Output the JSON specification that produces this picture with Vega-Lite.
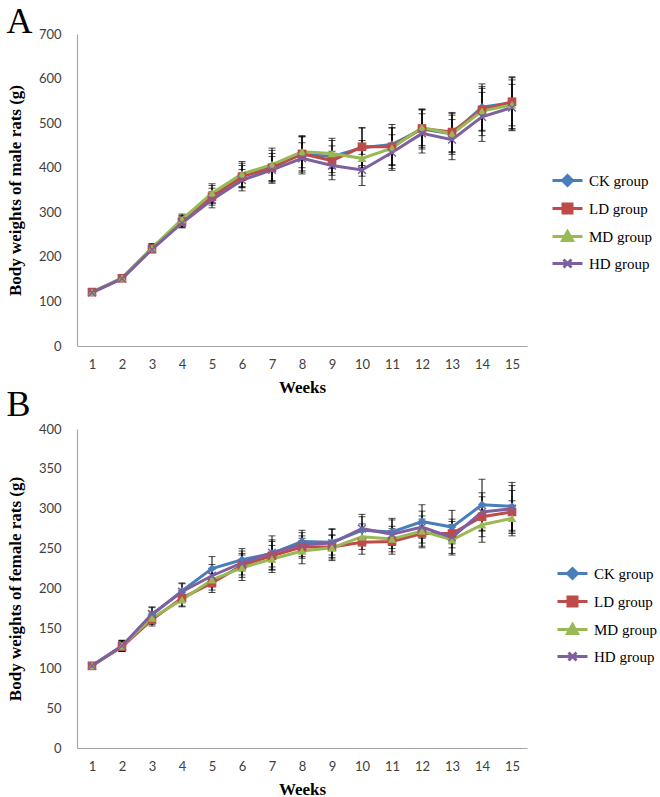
{
  "$schema": "https://vega.github.io/schema/vega-lite/v6.json",
  "padding": {"left": 6, "top": 4, "right": 0, "bottom": 0},
  "background": "white",
  "spacing": -8,
  "config": {
    "view": {"stroke": null},
    "axis": {"grid": false, "ticks": false, "domainColor": "#a6a6a6", "domainWidth": 1.2, "labelFont": "Lato", "labelFontSize": 13, "labelColor": "#404040", "titleFont": "Liberation Serif", "titleFontSize": 17, "titleFontWeight": "bold", "titleColor": "black"},
    "axisX": {"labelAngle": 0, "labelPadding": 12, "titlePadding": 8},
    "axisY": {"labelPadding": 16, "titlePadding": 14},
    "title": {"font": "Liberation Serif", "fontSize": 36, "fontWeight": "normal", "color": "black", "anchor": "start", "frame": "bounds"},
    "legend": {"labelFont": "Liberation Serif", "labelFontSize": 15, "labelColor": "black", "symbolSize": 100, "symbolStrokeWidth": 3, "rowPadding": 6, "labelOffset": 14, "title": null, "orient": "none", "padding": 0}
  },
  "datasets": {
    "male": [
      {"week": 1, "group": "CK  group", "value": 120, "sd": 5}, {"week": 1, "group": "LD  group", "value": 121, "sd": 4}, {"week": 1, "group": "MD group", "value": 121, "sd": 6}, {"week": 1, "group": "HD group", "value": 120, "sd": 4},
      {"week": 2, "group": "CK  group", "value": 152, "sd": 6}, {"week": 2, "group": "LD  group", "value": 152, "sd": 5}, {"week": 2, "group": "MD group", "value": 153, "sd": 7}, {"week": 2, "group": "HD group", "value": 151, "sd": 5},
      {"week": 3, "group": "CK  group", "value": 219, "sd": 9}, {"week": 3, "group": "LD  group", "value": 218, "sd": 8}, {"week": 3, "group": "MD group", "value": 220, "sd": 10}, {"week": 3, "group": "HD group", "value": 217, "sd": 8},
      {"week": 4, "group": "CK  group", "value": 280, "sd": 13}, {"week": 4, "group": "LD  group", "value": 279, "sd": 12}, {"week": 4, "group": "MD group", "value": 284, "sd": 12}, {"week": 4, "group": "HD group", "value": 276, "sd": 11},
      {"week": 5, "group": "CK  group", "value": 340, "sd": 20}, {"week": 5, "group": "LD  group", "value": 335, "sd": 19}, {"week": 5, "group": "MD group", "value": 343, "sd": 21}, {"week": 5, "group": "HD group", "value": 328, "sd": 18},
      {"week": 6, "group": "CK  group", "value": 383, "sd": 27}, {"week": 6, "group": "LD  group", "value": 380, "sd": 25}, {"week": 6, "group": "MD group", "value": 386, "sd": 28}, {"week": 6, "group": "HD group", "value": 372, "sd": 24},
      {"week": 7, "group": "CK  group", "value": 405, "sd": 34}, {"week": 7, "group": "LD  group", "value": 400, "sd": 32}, {"week": 7, "group": "MD group", "value": 407, "sd": 37}, {"week": 7, "group": "HD group", "value": 395, "sd": 30},
      {"week": 8, "group": "CK  group", "value": 430, "sd": 40}, {"week": 8, "group": "LD  group", "value": 431, "sd": 38}, {"week": 8, "group": "MD group", "value": 436, "sd": 36}, {"week": 8, "group": "HD group", "value": 421, "sd": 35},
      {"week": 9, "group": "CK  group", "value": 425, "sd": 36}, {"week": 9, "group": "LD  group", "value": 416, "sd": 33}, {"week": 9, "group": "MD group", "value": 432, "sd": 34}, {"week": 9, "group": "HD group", "value": 405, "sd": 32},
      {"week": 10, "group": "CK  group", "value": 445, "sd": 45}, {"week": 10, "group": "LD  group", "value": 447, "sd": 42}, {"week": 10, "group": "MD group", "value": 421, "sd": 40}, {"week": 10, "group": "HD group", "value": 395, "sd": 35},
      {"week": 11, "group": "CK  group", "value": 452, "sd": 45}, {"week": 11, "group": "LD  group", "value": 447, "sd": 42}, {"week": 11, "group": "MD group", "value": 444, "sd": 46}, {"week": 11, "group": "HD group", "value": 434, "sd": 40},
      {"week": 12, "group": "CK  group", "value": 487, "sd": 45}, {"week": 12, "group": "LD  group", "value": 488, "sd": 42}, {"week": 12, "group": "MD group", "value": 490, "sd": 40}, {"week": 12, "group": "HD group", "value": 477, "sd": 44},
      {"week": 13, "group": "CK  group", "value": 476, "sd": 46}, {"week": 13, "group": "LD  group", "value": 480, "sd": 44}, {"week": 13, "group": "MD group", "value": 476, "sd": 42}, {"week": 13, "group": "HD group", "value": 463, "sd": 45},
      {"week": 14, "group": "CK  group", "value": 536, "sd": 52}, {"week": 14, "group": "LD  group", "value": 530, "sd": 48}, {"week": 14, "group": "MD group", "value": 527, "sd": 55}, {"week": 14, "group": "HD group", "value": 514, "sd": 55},
      {"week": 15, "group": "CK  group", "value": 546, "sd": 58}, {"week": 15, "group": "LD  group", "value": 548, "sd": 54}, {"week": 15, "group": "MD group", "value": 541, "sd": 56}, {"week": 15, "group": "HD group", "value": 535, "sd": 52}
    ],
    "female": [
      {"week": 1, "group": "CK  group", "value": 103, "sd": 3}, {"week": 1, "group": "LD  group", "value": 103, "sd": 3}, {"week": 1, "group": "MD group", "value": 103, "sd": 3}, {"week": 1, "group": "HD group", "value": 103, "sd": 3},
      {"week": 2, "group": "CK  group", "value": 128, "sd": 7}, {"week": 2, "group": "LD  group", "value": 127, "sd": 6}, {"week": 2, "group": "MD group", "value": 128, "sd": 6}, {"week": 2, "group": "HD group", "value": 128, "sd": 7},
      {"week": 3, "group": "CK  group", "value": 167, "sd": 9}, {"week": 3, "group": "LD  group", "value": 161, "sd": 8}, {"week": 3, "group": "MD group", "value": 163, "sd": 8}, {"week": 3, "group": "HD group", "value": 168, "sd": 9},
      {"week": 4, "group": "CK  group", "value": 197, "sd": 10}, {"week": 4, "group": "LD  group", "value": 188, "sd": 10}, {"week": 4, "group": "MD group", "value": 186, "sd": 9}, {"week": 4, "group": "HD group", "value": 196, "sd": 10},
      {"week": 5, "group": "CK  group", "value": 225, "sd": 15}, {"week": 5, "group": "LD  group", "value": 207, "sd": 12}, {"week": 5, "group": "MD group", "value": 211, "sd": 13}, {"week": 5, "group": "HD group", "value": 216, "sd": 14},
      {"week": 6, "group": "CK  group", "value": 236, "sd": 14}, {"week": 6, "group": "LD  group", "value": 229, "sd": 15}, {"week": 6, "group": "MD group", "value": 226, "sd": 16}, {"week": 6, "group": "HD group", "value": 232, "sd": 15},
      {"week": 7, "group": "CK  group", "value": 244, "sd": 17}, {"week": 7, "group": "LD  group", "value": 241, "sd": 18}, {"week": 7, "group": "MD group", "value": 237, "sd": 17}, {"week": 7, "group": "HD group", "value": 245, "sd": 21},
      {"week": 8, "group": "CK  group", "value": 259, "sd": 14}, {"week": 8, "group": "LD  group", "value": 252, "sd": 14}, {"week": 8, "group": "MD group", "value": 247, "sd": 16}, {"week": 8, "group": "HD group", "value": 255, "sd": 15},
      {"week": 9, "group": "CK  group", "value": 258, "sd": 16}, {"week": 9, "group": "LD  group", "value": 252, "sd": 15}, {"week": 9, "group": "MD group", "value": 251, "sd": 16}, {"week": 9, "group": "HD group", "value": 257, "sd": 18},
      {"week": 10, "group": "CK  group", "value": 273, "sd": 17}, {"week": 10, "group": "LD  group", "value": 258, "sd": 15}, {"week": 10, "group": "MD group", "value": 265, "sd": 16}, {"week": 10, "group": "HD group", "value": 275, "sd": 18},
      {"week": 11, "group": "CK  group", "value": 271, "sd": 17}, {"week": 11, "group": "LD  group", "value": 259, "sd": 16}, {"week": 11, "group": "MD group", "value": 262, "sd": 16}, {"week": 11, "group": "HD group", "value": 268, "sd": 18},
      {"week": 12, "group": "CK  group", "value": 284, "sd": 21}, {"week": 12, "group": "LD  group", "value": 269, "sd": 18}, {"week": 12, "group": "MD group", "value": 272, "sd": 19}, {"week": 12, "group": "HD group", "value": 277, "sd": 20},
      {"week": 13, "group": "CK  group", "value": 277, "sd": 21}, {"week": 13, "group": "LD  group", "value": 269, "sd": 18}, {"week": 13, "group": "MD group", "value": 261, "sd": 19}, {"week": 13, "group": "HD group", "value": 264, "sd": 20},
      {"week": 14, "group": "CK  group", "value": 305, "sd": 32}, {"week": 14, "group": "LD  group", "value": 290, "sd": 25}, {"week": 14, "group": "MD group", "value": 280, "sd": 22}, {"week": 14, "group": "HD group", "value": 296, "sd": 24},
      {"week": 15, "group": "CK  group", "value": 303, "sd": 30}, {"week": 15, "group": "LD  group", "value": 296, "sd": 27}, {"week": 15, "group": "MD group", "value": 288, "sd": 22}, {"week": 15, "group": "HD group", "value": 300, "sd": 29}
    ]
  },
  "resolve": {"scale": {"color": "independent"}, "legend": {"color": "independent"}},
  "vconcat": [
    {
      "title": {"text": "A", "offset": -13},
      "width": 450,
      "height": 312,
      "data": {"name": "male"},
      "encoding": {
        "x": {"field": "week", "type": "ordinal", "sort": "ascending", "scale": {"type": "point", "padding": 0.5}, "axis": {"title": "Weeks"}},
        "y": {"field": "value", "type": "quantitative", "scale": {"domain": [0, 700], "nice": false, "zero": true}, "axis": {"title": "Body weights of male rats (g)", "values": [0, 100, 200, 300, 400, 500, 600, 700]}}
      },
      "layer": [
        {
          "mark": {"type": "errorbar", "color": "black", "thickness": 1, "ticks": {"size": 7, "color": "black"}},
          "encoding": {"yError": {"field": "sd"}, "detail": {"field": "group"}}
        },
        {
          "mark": {"type": "line", "strokeWidth": 3},
          "encoding": {
            "color": {"field": "group", "type": "nominal", "sort": ["CK  group", "LD  group", "MD group", "HD group"],
              "scale": {"domain": ["CK  group", "LD  group", "MD group", "HD group"], "range": ["#4a7ebb", "#be4b48", "#98b954", "#7d60a0"]},
              "legend": {"legendX": 483, "legendY": 139,
                "encode": {"symbols": {"update": {
                  "shape": {"signal": "datum.value === 'CK  group' ? 'M-3,0L3,0M0,-1L1,0L0,1L-1,0Z' : datum.value === 'LD  group' ? 'M-3,0L3,0M-0.9,-0.9L0.9,-0.9L0.9,0.9L-0.9,0.9Z' : datum.value === 'MD group' ? 'M-3,0L3,0M0,-1L1,0.8L-1,0.8Z' : 'M-3,0L3,0M-0.8,-0.8L0.8,0.8M-0.8,0.8L0.8,-0.8'"},
                  "fill": {"signal": "datum.value === 'CK  group' ? '#4a7ebb' : datum.value === 'LD  group' ? '#be4b48' : datum.value === 'MD group' ? '#98b954' : '#7d60a0'"},
                  "stroke": {"signal": "datum.value === 'CK  group' ? '#4a7ebb' : datum.value === 'LD  group' ? '#be4b48' : datum.value === 'MD group' ? '#98b954' : '#7d60a0'"},
                  "strokeWidth": {"value": 3}
                }}}}
            }
          }
        },
        {"transform": [{"filter": "datum.group === 'CK  group'"}], "mark": {"type": "point", "filled": true, "size": 70, "opacity": 1, "shape": "diamond", "color": "#4a7ebb"}},
        {"transform": [{"filter": "datum.group === 'LD  group'"}], "mark": {"type": "point", "filled": true, "size": 75, "opacity": 1, "shape": "square", "color": "#be4b48"}},
        {"transform": [{"filter": "datum.group === 'MD group'"}], "mark": {"type": "point", "filled": true, "size": 75, "opacity": 1, "shape": "triangle-up", "color": "#98b954"}},
        {"transform": [{"filter": "datum.group === 'HD group'"}], "mark": {"type": "point", "filled": false, "size": 60, "opacity": 1, "strokeWidth": 1.5, "shape": "M-1,-1L1,1M-1,1L1,-1", "color": "#7d60a0"}}
      ]
    },
    {
      "title": {"text": "B", "offset": -1},
      "width": 450,
      "height": 319,
      "data": {"name": "female"},
      "encoding": {
        "x": {"field": "week", "type": "ordinal", "sort": "ascending", "scale": {"type": "point", "padding": 0.5}, "axis": {"title": "Weeks"}},
        "y": {"field": "value", "type": "quantitative", "scale": {"domain": [0, 400], "nice": false, "zero": true}, "axis": {"title": "Body weights of female rats (g)", "values": [0, 50, 100, 150, 200, 250, 300, 350, 400]}}
      },
      "layer": [
        {
          "mark": {"type": "errorbar", "color": "black", "thickness": 1, "ticks": {"size": 7, "color": "black"}},
          "encoding": {"yError": {"field": "sd"}, "detail": {"field": "group"}}
        },
        {
          "mark": {"type": "line", "strokeWidth": 3},
          "encoding": {
            "color": {"field": "group", "type": "nominal", "sort": ["CK  group", "LD  group", "MD group", "HD group"],
              "scale": {"domain": ["CK  group", "LD  group", "MD group", "HD group"], "range": ["#4a7ebb", "#be4b48", "#98b954", "#7d60a0"]},
              "legend": {"legendX": 488, "legendY": 137,
                "encode": {"symbols": {"update": {
                  "shape": {"signal": "datum.value === 'CK  group' ? 'M-3,0L3,0M0,-1L1,0L0,1L-1,0Z' : datum.value === 'LD  group' ? 'M-3,0L3,0M-0.9,-0.9L0.9,-0.9L0.9,0.9L-0.9,0.9Z' : datum.value === 'MD group' ? 'M-3,0L3,0M0,-1L1,0.8L-1,0.8Z' : 'M-3,0L3,0M-0.8,-0.8L0.8,0.8M-0.8,0.8L0.8,-0.8'"},
                  "fill": {"signal": "datum.value === 'CK  group' ? '#4a7ebb' : datum.value === 'LD  group' ? '#be4b48' : datum.value === 'MD group' ? '#98b954' : '#7d60a0'"},
                  "stroke": {"signal": "datum.value === 'CK  group' ? '#4a7ebb' : datum.value === 'LD  group' ? '#be4b48' : datum.value === 'MD group' ? '#98b954' : '#7d60a0'"},
                  "strokeWidth": {"value": 3}
                }}}}
            }
          }
        },
        {"transform": [{"filter": "datum.group === 'CK  group'"}], "mark": {"type": "point", "filled": true, "size": 70, "opacity": 1, "shape": "diamond", "color": "#4a7ebb"}},
        {"transform": [{"filter": "datum.group === 'LD  group'"}], "mark": {"type": "point", "filled": true, "size": 75, "opacity": 1, "shape": "square", "color": "#be4b48"}},
        {"transform": [{"filter": "datum.group === 'MD group'"}], "mark": {"type": "point", "filled": true, "size": 75, "opacity": 1, "shape": "triangle-up", "color": "#98b954"}},
        {"transform": [{"filter": "datum.group === 'HD group'"}], "mark": {"type": "point", "filled": false, "size": 60, "opacity": 1, "strokeWidth": 1.5, "shape": "M-1,-1L1,1M-1,1L1,-1", "color": "#7d60a0"}}
      ]
    }
  ]
}
